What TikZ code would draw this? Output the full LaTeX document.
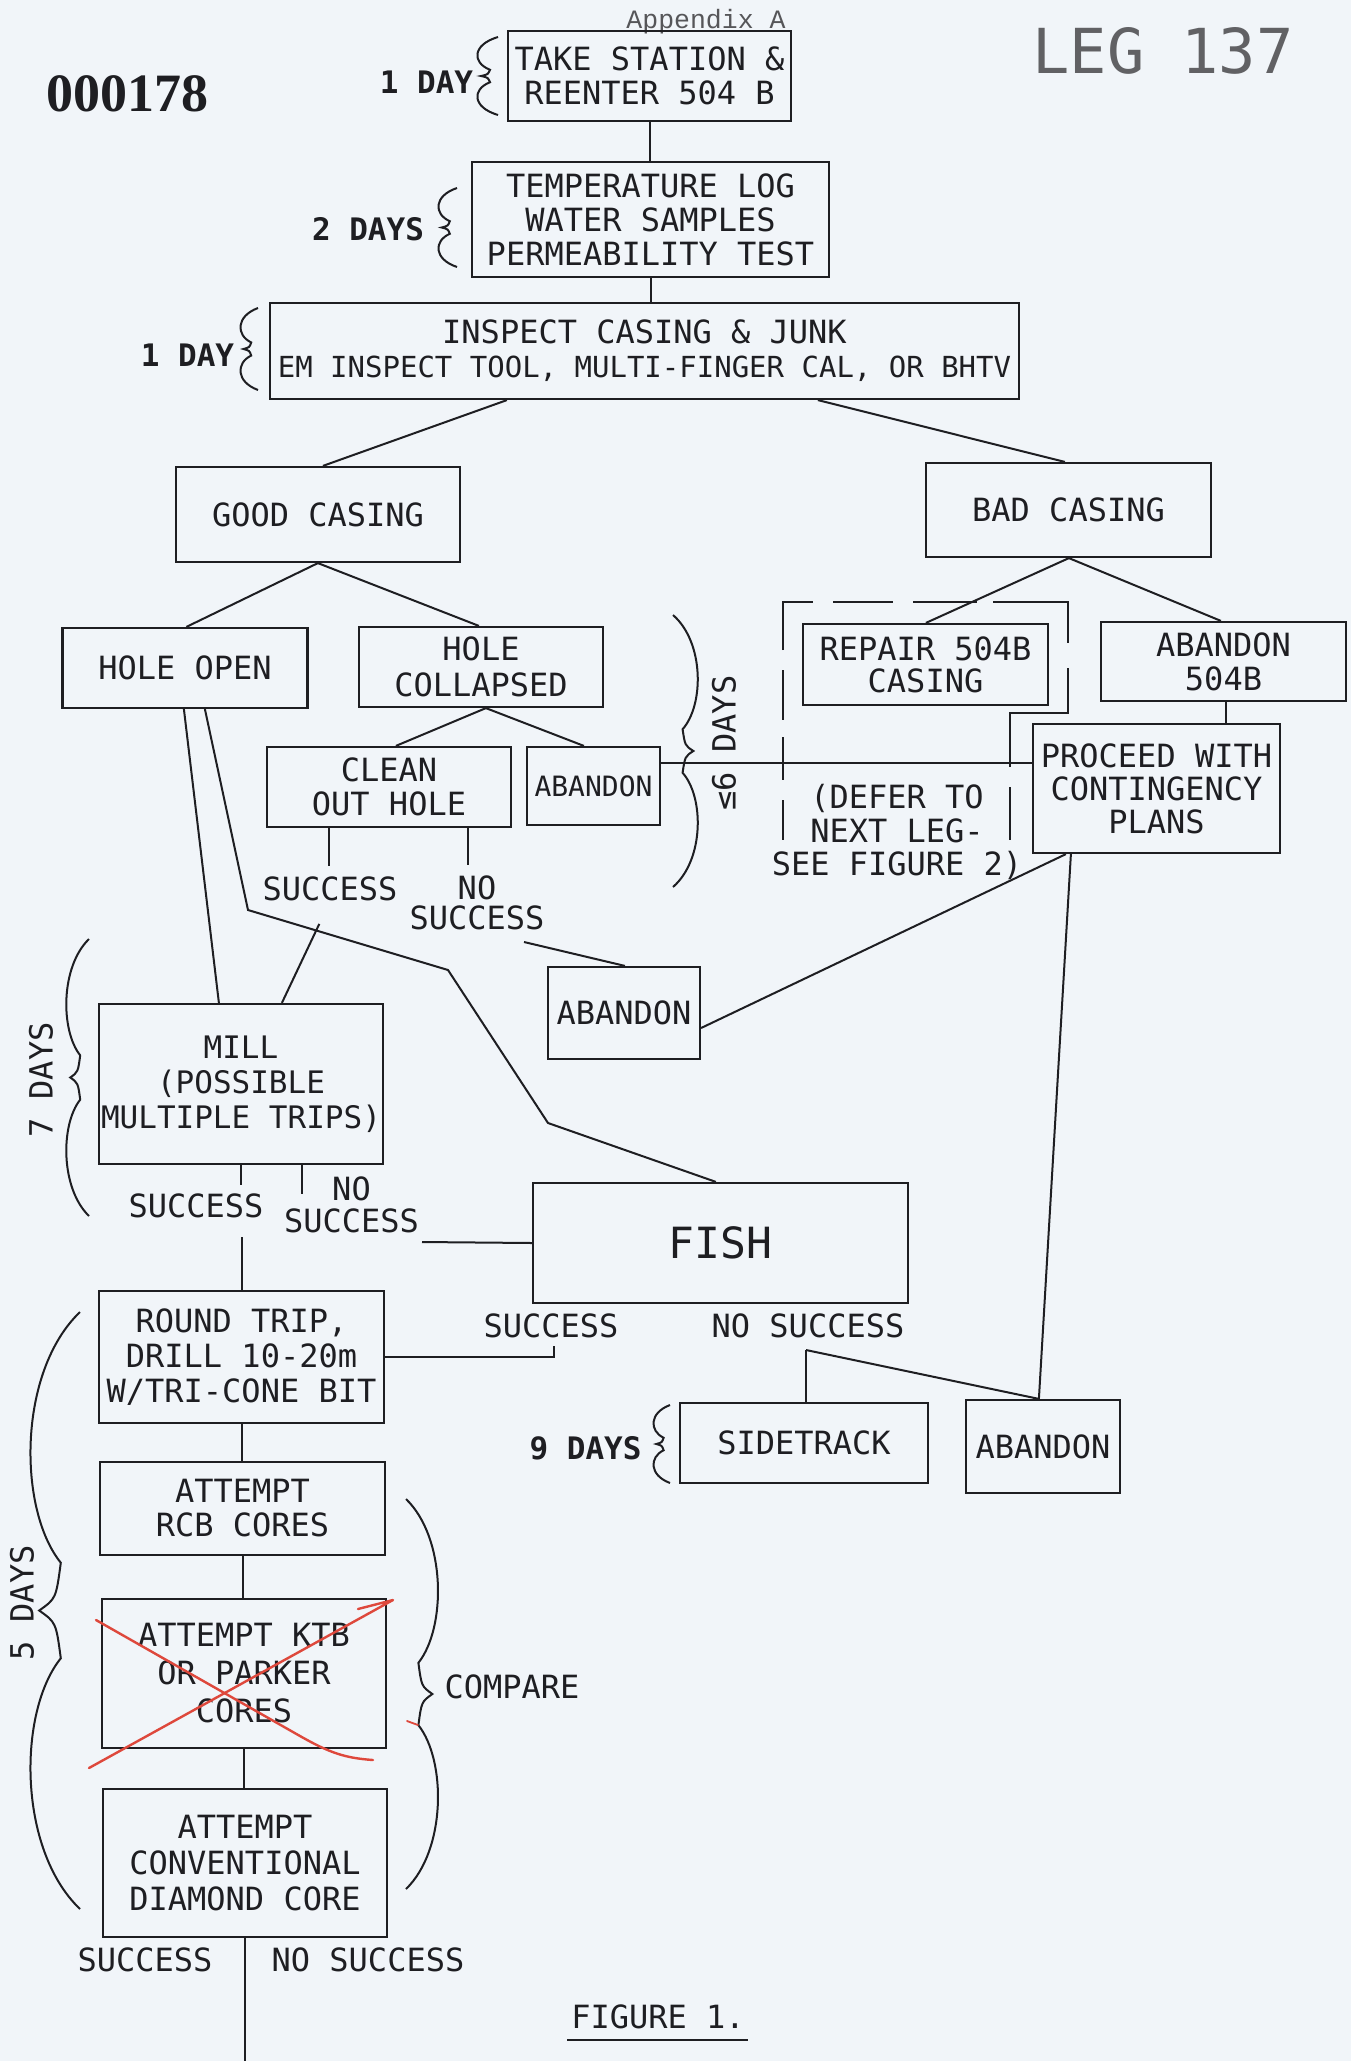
\documentclass[tikz,border=0pt]{standalone}
\usepackage{fontspec}
\newfontfamily\plotfont{DejaVu Sans Mono}
\newfontfamily\courfont{Liberation Mono}
\newfontfamily\stampfont{Liberation Serif}
\usetikzlibrary{calc}
\definecolor{paper}{RGB}{241,245,249}
\definecolor{ink}{RGB}{30,30,34}
\definecolor{redpen}{RGB}{222,72,60}
\newcommand{\txtA}{\plotfont\fontsize{32}{34}\selectfont}
\newcommand{\mybrace}[4]{%
 \draw[bracestyle] (#1,#2)
   .. controls ({#1+1.3*(#4)},{#2+0.10*(#3-#2)}) and ({#1+1.3*(#4)},{#2+0.33*(#3-#2)}) .. ({#1+0.4*(#4)},{#2+0.42*(#3-#2)})
   .. controls ({#1+0.5*(#4)},{#2+0.48*(#3-#2)}) .. ({#1+0.85*(#4)},{#2+0.5*(#3-#2)})
   .. controls ({#1+0.5*(#4)},{#2+0.52*(#3-#2)}) .. ({#1+0.4*(#4)},{#2+0.58*(#3-#2)})
   .. controls ({#1+1.3*(#4)},{#2+0.67*(#3-#2)}) and ({#1+1.3*(#4)},{#2+0.90*(#3-#2)}) .. (#1,#3);}
\tikzset{
  box/.style={draw=ink, line width=2.2pt, inner sep=0pt, align=center, text=ink, font=\txtA},
  lbl/.style={inner sep=0pt, align=center, text=ink, font=\txtA},
  daylbl/.style={inner sep=0pt, align=center, text=ink, font=\plotfont\bfseries\fontsize{31}{34}\selectfont},
  conn/.style={draw=ink, line width=2pt},
  bracestyle/.style={draw=ink, line width=2pt},
  frameseg/.style={draw=ink, line width=2pt},
  xmark/.style={draw=redpen, line width=2.4pt, line cap=round, line join=round},
}
\begin{document}
\begin{tikzpicture}[x=1pt,y=-1pt]
\fill[paper] (0,0) rectangle (1351,2061);
\useasboundingbox (0,0) rectangle (1351,2061);

% header texts
\node[text=ink!75, inner sep=0pt, anchor=base, font=\courfont\fontsize{26.5}{28}\selectfont] (app) at (706,28) {Appendix A};
\node[text=ink!70, inner sep=0pt, font=\plotfont\fontsize{62}{62}\selectfont] (leg) at (1163,51) {LEG 137};
\node[text=ink, inner sep=0pt, font=\stampfont\bfseries\fontsize{54}{54}\selectfont] (num) at (127,94) {000178};

% boxes
\node[box, minimum width=283pt, minimum height=90pt] (B1) at (649.5,76) {TAKE STATION \&\\REENTER 504 B};
\node[box, minimum width=357pt, minimum height=115pt] (B2) at (650.5,219.5) {TEMPERATURE LOG\\WATER SAMPLES\\PERMEABILITY TEST};
\node[box, minimum width=749pt, minimum height=96pt] (B3) at (644.5,351) {INSPECT CASING \& JUNK\\{\fontsize{29}{34}\selectfont EM INSPECT TOOL, MULTI-FINGER CAL, OR BHTV}};
\node[box, minimum width=284pt, minimum height=95pt] (GC) at (318,514.5) {GOOD CASING};
\node[box, minimum width=285pt, minimum height=94pt] (BC) at (1068.5,510) {BAD CASING};
\node[box, minimum width=245pt, minimum height=80pt] (HO) at (185,668) {HOLE OPEN};
\node[box, minimum width=244pt, minimum height=80pt, font=\plotfont\fontsize{32}{36}\selectfont] (HC) at (481,667) {HOLE\\COLLAPSED};
\node[box, minimum width=244pt, minimum height=80pt] (CO) at (389,787) {CLEAN\\OUT HOLE};
\node[box, minimum width=133pt, minimum height=78pt, font=\plotfont\fontsize{28}{34}\selectfont] (AB1) at (593.5,786) {ABANDON};
\node[box, minimum width=245pt, minimum height=81pt, font=\plotfont\fontsize{32}{32}\selectfont] (RP) at (925.5,664.5) {REPAIR 504B\\CASING};
\node[box, minimum width=245pt, minimum height=79pt] (AB504) at (1223.5,661.5) {ABANDON\\504B};
\node[box, minimum width=247pt, minimum height=129pt, font=\plotfont\fontsize{32}{33}\selectfont] (PR) at (1156.5,788.5) {PROCEED WITH\\CONTINGENCY\\PLANS};
\node[box, minimum width=152pt, minimum height=92pt] (AB2) at (624,1013) {ABANDON};
\node[box, minimum width=284pt, minimum height=160pt, font=\plotfont\fontsize{31}{35}\selectfont] (MILL) at (241,1084) {MILL\\(POSSIBLE\\MULTIPLE TRIPS)};
\node[box, minimum width=375pt, minimum height=120pt, font=\plotfont\fontsize{43}{43}\selectfont] (FISH) at (720.5,1243) {FISH};
\node[box, minimum width=285pt, minimum height=132pt, font=\plotfont\fontsize{32}{35}\selectfont] (RT) at (241.5,1357) {ROUND TRIP,\\DRILL 10-20m\\W/TRI-CONE BIT};
\node[box, minimum width=248pt, minimum height=80pt] (ST) at (804,1443) {SIDETRACK};
\node[box, minimum width=154pt, minimum height=93pt] (AB3) at (1043,1446.5) {ABANDON};
\node[box, minimum width=285pt, minimum height=93pt] (RCB) at (242.5,1508.5) {ATTEMPT\\RCB CORES};
\node[box, minimum width=284pt, minimum height=149pt, font=\plotfont\fontsize{32}{38}\selectfont] (KTB) at (244,1673.5) {ATTEMPT KTB\\OR PARKER\\CORES};
\node[box, minimum width=284pt, minimum height=148pt, font=\plotfont\fontsize{32}{36}\selectfont] (DIA) at (245,1863) {ATTEMPT\\CONVENTIONAL\\DIAMOND CORE};

% labels
\node[daylbl] (d1a) at (426.5,82) {1 DAY};
\node[daylbl] (d2) at (368,229) {2 DAYS};
\node[daylbl] (d1b) at (187.5,355) {1 DAY};
\node[daylbl] (d9) at (585.5,1448) {9 DAYS};
\node[lbl, rotate=90] (d7) at (41,1080) {7 DAYS};
\node[lbl, rotate=90] (d5) at (22,1603) {5 DAYS};
\node[lbl, rotate=90] (d6) at (724,743) {≤6 DAYS};
\node[lbl] (cmp) at (512,1687) {COMPARE};
\node[lbl, font=\plotfont\fontsize{32}{33.5}\selectfont] (defer) at (897,832) {(DEFER TO\\NEXT LEG-\\SEE FIGURE 2)};
\node[lbl] (SUCC1) at (330,889) {SUCCESS};
\node[lbl, font=\plotfont\fontsize{32}{30}\selectfont] (NS1) at (477,902.5) {NO\\SUCCESS};
\node[lbl] (SUCC2) at (196,1205.5) {SUCCESS};
\node[lbl, font=\plotfont\fontsize{32}{32}\selectfont] (NS2) at (351.5,1204.5) {NO\\SUCCESS};
\node[lbl] (SUCC3) at (551,1326) {SUCCESS};
\node[lbl] (NS3) at (808,1326) {NO SUCCESS};
\node[lbl] (SUCC4) at (145,1960) {SUCCESS};
\node[lbl] (NS4) at (368,1960) {NO SUCCESS};
\node[lbl] (fig) at (658,2017) {FIGURE 1.};
\draw[conn] ([xshift=-4pt,yshift=-11pt]fig.south west) -- ([xshift=3pt,yshift=-11pt]fig.south east);

% braces
\mybrace{498}{37}{115}{-20}
\mybrace{457}{188}{267}{-18}
\mybrace{258}{308}{390}{-17}
\mybrace{670}{1405}{1483}{-16}
\mybrace{89}{939}{1216}{-22}
\mybrace{80}{1312}{1909}{-48}
\mybrace{673}{615}{887}{24}
\mybrace{406}{1499}{1889}{31}

% dashed frame around repair (drawn as its separate pen strokes)
\draw[frameseg] (783,650) -- (783,602) -- (813,602);
\draw[frameseg] (833,602) -- (893,602);
\draw[frameseg] (913,602) -- (977,602);
\draw[frameseg] (993,602) -- (1068,602) -- (1068,643);
\draw[frameseg] (1068,668) -- (1068,713) -- (1010,713) -- (1010,767);
\draw[frameseg] (1010,787) -- (1010,840);
\draw[frameseg] (783,670) -- (783,720);
\draw[frameseg] (783,737) -- (783,780);
\draw[frameseg] (783,800) -- (783,840);

% coordinates for free ends and bends
\coordinate (c1) at ([xshift=63pt]CO.south west);
\coordinate (c2) at ([xshift=202pt]CO.south west);
\coordinate (n1s) at (524,942);
\coordinate (k1) at (248,910);
\coordinate (k2) at (448,970);
\coordinate (k3) at (548,1123);
\coordinate (m1) at ([xshift=143pt]MILL.south west);
\coordinate (m2) at ([xshift=204pt]MILL.south west);
\coordinate (s2low) at (242,1237);
\coordinate (ns2r) at (422,1242);
\coordinate (fsx) at (553.6,1346);
\coordinate (j3) at (806,1350);
\coordinate (ab1e) at ([yshift=23pt]AB1.east);
\coordinate (bot) at (245,2061);

% connectors
\draw[conn] (B1.south) -- (B1.south |- B2.north);
\draw[conn] (B2.south) -- (B2.south |- B3.north);
\draw[conn] ([xshift=238pt]B3.south west) -- ([xshift=148pt]GC.north west);
\draw[conn] ([xshift=549pt]B3.south west) -- ([xshift=140pt]BC.north west);
\draw[conn] ([xshift=143pt]GC.south west) -- ([xshift=125pt]HO.north west);
\draw[conn] ([xshift=143pt]GC.south west) -- ([xshift=121pt]HC.north west);
\draw[conn] ([xshift=128pt]HC.south west) -- ([xshift=130pt]CO.north west);
\draw[conn] ([xshift=128pt]HC.south west) -- ([xshift=58pt]AB1.north west);
\draw[conn] ([xshift=144pt]BC.south west) -- ([xshift=124pt]RP.north west);
\draw[conn] ([xshift=144pt]BC.south west) -- ([xshift=121pt]AB504.north west);
\draw[conn] ([xshift=126pt]AB504.south west) -- ([xshift=126pt]AB504.south west |- PR.north);
\draw[conn] (ab1e) -- (ab1e -| PR.west);
\draw[conn, shorten >=11pt] (c1) -- (c1 |- SUCC1.north);
\draw[conn, shorten >=10pt] (c2) -- (c2 |- NS1.north);
\draw[conn, shorten <=25pt] (SUCC1.south) -- ([xshift=184pt]MILL.north west);
\draw[conn] (n1s) -- ([xshift=78pt]AB2.north west);
\draw[conn] ([xshift=122.5pt]HO.south west) -- ([xshift=121pt]MILL.north west);
\draw[conn] ([xshift=143.5pt]HO.south west) -- (k1) -- (k2) -- (k3) -- ([xshift=184pt]FISH.north west);
\draw[conn] ([yshift=-15pt]AB2.east) -- ([xshift=34pt]PR.south west);
\draw[conn] ([xshift=39pt]PR.south west) -- ([xshift=74pt]AB3.north west);
\draw[conn] (m1) -- ++(0,20);
\draw[conn] (m2) -- ++(0,29);
\draw[conn] (s2low) -- (s2low |- RT.north);
\draw[conn] (ns2r) -- (FISH.west);
\draw[conn] (RT.east) -- (RT.east -| fsx) -- (fsx);
\draw[conn] (j3) -- (j3 |- ST.north);
\draw[conn] (j3) -- ([xshift=74pt]AB3.north west);
\draw[conn] (RT.south) -- (RT.south |- RCB.north);
\draw[conn] (RCB.south) -- (RCB.south |- KTB.north);
\draw[conn] (KTB.south) -- (KTB.south |- DIA.north);
\draw[conn] (DIA.south) -- (DIA.south |- bot);

% red cross-out
\draw[xmark] (96,1620) -- (300,1736) .. controls (330,1753) and (345,1758) .. (373,1760);
\draw[xmark] (89,1768) -- (393,1600) -- (358,1609);
\draw[xmark, line width=1.8pt] (407,1721) -- (418,1725);
\end{tikzpicture}
\end{document}
